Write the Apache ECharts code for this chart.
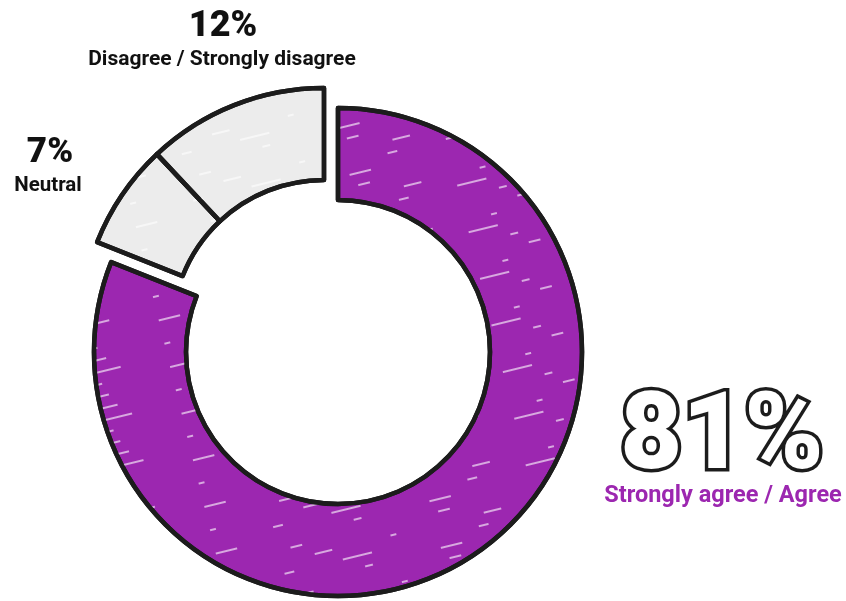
<!DOCTYPE html>
<html>
<head>
<meta charset="utf-8">
<script src="https://cdn.jsdelivr.net/npm/echarts@6/dist/echarts.min.js"></script>
<style>
  html, body { margin: 0; padding: 0; background: #ffffff; }
  #chart { width: 846px; height: 601px; }
</style>
</head>
<body>
<div id="chart"></div>
<script>
// Survey response shares (percent), clockwise from 12 o'clock
const categories = ['Strongly agree / Agree', 'Neutral', 'Disagree / Strongly disagree'];
const shares = [81, 7, 12];
const sliceColors = ['#9c27b0', '#ececec', '#ececec'];
// which slices sit on the pulled-out ring (the non-agree group)
const pulledOut = [false, true, true];

const chart = echarts.init(document.getElementById('chart'), null, { renderer: 'canvas' });

// white pencil-like streaks over the fills
const streaks = {
  symbol: 'rect',
  color: 'rgba(255,255,255,0.6)',
  dashArrayX: [[18, 60, 6, 90], [30, 110, 10, 50], [8, 70, 22, 120], [12, 140]],
  dashArrayY: [1.3, 10],
  rotation: -0.24
};

const CX = 338, CY = 352;
const OFF_X = -14, OFF_Y = -20;
const RADIUS = [152, 244];

function ringData(onPulled) {
  return categories.map((name, i) => {
    const visible = pulledOut[i] === onPulled;
    return {
      name: name,
      value: shares[i],
      itemStyle: visible ? {
        color: sliceColors[i],
        borderColor: '#1c1c1c',
        borderWidth: 4.5,
        borderJoin: 'round',
        decal: streaks
      } : {
        color: 'rgba(0,0,0,0)',
        borderWidth: 0,
        decal: { symbol: 'none' }
      }
    };
  });
}

const pieBase = {
  type: 'pie',
  radius: RADIUS,
  startAngle: 90,
  clockwise: true,
  silent: true,
  avoidLabelOverlap: false,
  label: { show: false },
  labelLine: { show: false },
  emphasis: { disabled: true }
};

const labelFont = 'Roboto, "Noto Sans", sans-serif';

function labelText(x, y, text, size, weight, fill) {
  return {
    type: 'text',
    style: { x: x, y: y, text: text, fill: fill, font: weight + ' ' + size + 'px ' + labelFont, textAlign: 'center', textVerticalAlign: 'middle' }
  };
}

const bigValue = shares[0] + '%';

chart.setOption({
  backgroundColor: '#ffffff',
  animation: false,
  tooltip: { show: false },
  series: [
    Object.assign({}, pieBase, { name: 'main', center: [CX, CY], data: ringData(false) }),
    Object.assign({}, pieBase, { name: 'pulled', center: [CX + OFF_X, CY + OFF_Y], data: ringData(true) })
  ],
  graphic: [
    labelText(223, 27, shares[2] + '%', 36, 900, '#111'),
    labelText(222, 60, categories[2], 21, 'bold', '#111'),
    labelText(50, 153, shares[1] + '%', 35, 900, '#111'),
    labelText(48, 186, categories[1], 20.5, 'bold', '#111'),
    // outlined big figure
    {
      type: 'text',
      style: { x: 722, y: 441, text: bigValue, fill: '#ffffff', stroke: '#1c1c1c', lineWidth: 7, strokeFirst: true, font: '900 107px ' + labelFont, textAlign: 'center', textVerticalAlign: 'middle' }
    },
    labelText(723, 496, categories[0], 23.5, 'bold', '#9c27b0')
  ]
});
</script>
</body>
</html>
